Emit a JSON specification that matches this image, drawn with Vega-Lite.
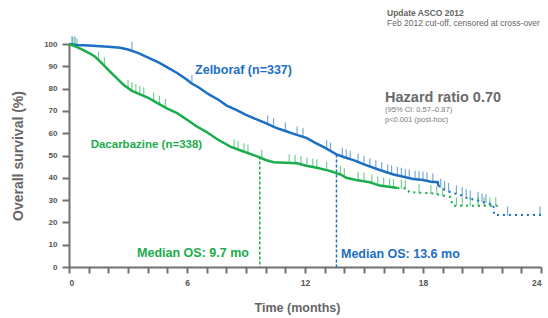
{
  "$schema": "https://vega.github.io/schema/vega-lite/v6.json",
  "autosize": "none",
  "padding": {"left": 69, "top": 44, "right": 7, "bottom": 51},
  "width": 472,
  "height": 223,
  "background": "white",
  "config": {
    "view": {"stroke": null},
    "font": "Liberation Sans",
    "axis": {"grid": false}
  },
  "datasets": {
    "km": [
      {"arm": "Zelboraf", "t": 0, "s": 100}, {"arm": "Zelboraf", "t": 0.4, "s": 99.6}, {"arm": "Zelboraf", "t": 1, "s": 99.3},
      {"arm": "Zelboraf", "t": 2, "s": 98.8}, {"arm": "Zelboraf", "t": 2.6, "s": 98.3}, {"arm": "Zelboraf", "t": 3, "s": 97.5},
      {"arm": "Zelboraf", "t": 3.5, "s": 96}, {"arm": "Zelboraf", "t": 4, "s": 94}, {"arm": "Zelboraf", "t": 4.6, "s": 91.5},
      {"arm": "Zelboraf", "t": 5, "s": 89.5}, {"arm": "Zelboraf", "t": 5.5, "s": 87}, {"arm": "Zelboraf", "t": 6, "s": 84},
      {"arm": "Zelboraf", "t": 6.2, "s": 82.5}, {"arm": "Zelboraf", "t": 6.6, "s": 80.5}, {"arm": "Zelboraf", "t": 7, "s": 78},
      {"arm": "Zelboraf", "t": 7.2, "s": 77}, {"arm": "Zelboraf", "t": 7.6, "s": 75}, {"arm": "Zelboraf", "t": 8, "s": 72.5},
      {"arm": "Zelboraf", "t": 8.5, "s": 70.5}, {"arm": "Zelboraf", "t": 9, "s": 68.2}, {"arm": "Zelboraf", "t": 9.6, "s": 66},
      {"arm": "Zelboraf", "t": 10, "s": 64.5}, {"arm": "Zelboraf", "t": 10.5, "s": 62.5}, {"arm": "Zelboraf", "t": 11, "s": 61},
      {"arm": "Zelboraf", "t": 11.5, "s": 59.5}, {"arm": "Zelboraf", "t": 12.1, "s": 57.8}, {"arm": "Zelboraf", "t": 12.5, "s": 55.8},
      {"arm": "Zelboraf", "t": 13, "s": 53.5}, {"arm": "Zelboraf", "t": 13.6, "s": 50.5}, {"arm": "Zelboraf", "t": 14, "s": 49.2},
      {"arm": "Zelboraf", "t": 14.5, "s": 47.8}, {"arm": "Zelboraf", "t": 15, "s": 46}, {"arm": "Zelboraf", "t": 15.8, "s": 43.5},
      {"arm": "Zelboraf", "t": 16.5, "s": 41.5}, {"arm": "Zelboraf", "t": 17, "s": 40.5}, {"arm": "Zelboraf", "t": 17.5, "s": 39.5},
      {"arm": "Zelboraf", "t": 18, "s": 39}, {"arm": "Zelboraf", "t": 18.4, "s": 38.2}, {"arm": "Zelboraf", "t": 18.75, "s": 38},
      {"arm": "Zelboraf", "t": 18.78, "s": 36.5}, {"arm": "Zelboraf", "t": 19, "s": 35}, {"arm": "Zelboraf", "t": 19.4, "s": 33.5},
      {"arm": "Zelboraf", "t": 19.9, "s": 32.3}, {"arm": "Zelboraf", "t": 20.2, "s": 31}, {"arm": "Zelboraf", "t": 20.7, "s": 30},
      {"arm": "Zelboraf", "t": 21.1, "s": 29}, {"arm": "Zelboraf", "t": 21.58, "s": 28}, {"arm": "Zelboraf", "t": 21.62, "s": 23.3},
      {"arm": "Zelboraf", "t": 24, "s": 23.3},
      {"arm": "Dacarbazine", "t": 0, "s": 100}, {"arm": "Dacarbazine", "t": 0.3, "s": 99}, {"arm": "Dacarbazine", "t": 0.6, "s": 97.8},
      {"arm": "Dacarbazine", "t": 1, "s": 96}, {"arm": "Dacarbazine", "t": 1.3, "s": 94.5}, {"arm": "Dacarbazine", "t": 1.6, "s": 92},
      {"arm": "Dacarbazine", "t": 2.1, "s": 87.5}, {"arm": "Dacarbazine", "t": 2.5, "s": 84}, {"arm": "Dacarbazine", "t": 2.8, "s": 81.5},
      {"arm": "Dacarbazine", "t": 3.2, "s": 79}, {"arm": "Dacarbazine", "t": 4, "s": 76}, {"arm": "Dacarbazine", "t": 4.5, "s": 73.5},
      {"arm": "Dacarbazine", "t": 5, "s": 71}, {"arm": "Dacarbazine", "t": 5.5, "s": 69}, {"arm": "Dacarbazine", "t": 6, "s": 66},
      {"arm": "Dacarbazine", "t": 6.5, "s": 63}, {"arm": "Dacarbazine", "t": 7, "s": 60.5}, {"arm": "Dacarbazine", "t": 7.5, "s": 57.5},
      {"arm": "Dacarbazine", "t": 8.2, "s": 54}, {"arm": "Dacarbazine", "t": 8.8, "s": 52}, {"arm": "Dacarbazine", "t": 9.6, "s": 49.5},
      {"arm": "Dacarbazine", "t": 10, "s": 48}, {"arm": "Dacarbazine", "t": 10.4, "s": 47}, {"arm": "Dacarbazine", "t": 11, "s": 46.8},
      {"arm": "Dacarbazine", "t": 11.6, "s": 46.5}, {"arm": "Dacarbazine", "t": 12, "s": 45.5}, {"arm": "Dacarbazine", "t": 12.6, "s": 44.5},
      {"arm": "Dacarbazine", "t": 13.3, "s": 43}, {"arm": "Dacarbazine", "t": 13.8, "s": 41.5}, {"arm": "Dacarbazine", "t": 14.1, "s": 40},
      {"arm": "Dacarbazine", "t": 14.6, "s": 39}, {"arm": "Dacarbazine", "t": 15.3, "s": 38}, {"arm": "Dacarbazine", "t": 15.8, "s": 36.5},
      {"arm": "Dacarbazine", "t": 16.7, "s": 35.4}, {"arm": "Dacarbazine", "t": 17.2, "s": 35.2}, {"arm": "Dacarbazine", "t": 17.3, "s": 33.6},
      {"arm": "Dacarbazine", "t": 18.5, "s": 33}, {"arm": "Dacarbazine", "t": 19.4, "s": 31.4}, {"arm": "Dacarbazine", "t": 19.5, "s": 27.5},
      {"arm": "Dacarbazine", "t": 21.8, "s": 27.5}
    ],
    "censor": [
      {"arm": "Zelboraf", "t": 0.15, "s": 99.8}, {"arm": "Zelboraf", "t": 0.3, "s": 99.7}, {"arm": "Zelboraf", "t": 3.2, "s": 97.2},
      {"arm": "Zelboraf", "t": 6.25, "s": 82.3}, {"arm": "Zelboraf", "t": 10.1, "s": 64.1}, {"arm": "Zelboraf", "t": 10.4, "s": 62.9},
      {"arm": "Zelboraf", "t": 11.0, "s": 61}, {"arm": "Zelboraf", "t": 11.6, "s": 59.2}, {"arm": "Zelboraf", "t": 11.9, "s": 58.4},
      {"arm": "Zelboraf", "t": 13.1, "s": 53}, {"arm": "Zelboraf", "t": 13.3, "s": 52}, {"arm": "Zelboraf", "t": 13.9, "s": 49.5},
      {"arm": "Zelboraf", "t": 14.1, "s": 48.9}, {"arm": "Zelboraf", "t": 14.3, "s": 48.4}, {"arm": "Zelboraf", "t": 14.7, "s": 47},
      {"arm": "Zelboraf", "t": 15.0, "s": 46}, {"arm": "Zelboraf", "t": 15.3, "s": 45}, {"arm": "Zelboraf", "t": 15.6, "s": 44.1},
      {"arm": "Zelboraf", "t": 15.9, "s": 43.2}, {"arm": "Zelboraf", "t": 16.2, "s": 42.3}, {"arm": "Zelboraf", "t": 16.4, "s": 41.8},
      {"arm": "Zelboraf", "t": 16.7, "s": 41.1}, {"arm": "Zelboraf", "t": 16.9, "s": 40.7}, {"arm": "Zelboraf", "t": 17.1, "s": 40.3},
      {"arm": "Zelboraf", "t": 17.3, "s": 39.9}, {"arm": "Zelboraf", "t": 17.6, "s": 39.4}, {"arm": "Zelboraf", "t": 17.8, "s": 39.2},
      {"arm": "Zelboraf", "t": 18.0, "s": 39}, {"arm": "Zelboraf", "t": 18.2, "s": 38.6}, {"arm": "Zelboraf", "t": 18.5, "s": 38.1},
      {"arm": "Zelboraf", "t": 18.9, "s": 35.8}, {"arm": "Zelboraf", "t": 19.1, "s": 34.6}, {"arm": "Zelboraf", "t": 19.3, "s": 33.9},
      {"arm": "Zelboraf", "t": 19.7, "s": 32.8}, {"arm": "Zelboraf", "t": 20.0, "s": 32}, {"arm": "Zelboraf", "t": 20.2, "s": 31},
      {"arm": "Zelboraf", "t": 20.4, "s": 30.6}, {"arm": "Zelboraf", "t": 20.8, "s": 29.8}, {"arm": "Zelboraf", "t": 21.0, "s": 29.3},
      {"arm": "Zelboraf", "t": 21.2, "s": 28.8}, {"arm": "Zelboraf", "t": 22.3, "s": 23.3}, {"arm": "Zelboraf", "t": 23.95, "s": 23.3},
      {"arm": "Dacarbazine", "t": 0.2, "s": 99.3}, {"arm": "Dacarbazine", "t": 0.4, "s": 98.6}, {"arm": "Dacarbazine", "t": 1.5, "s": 92.8},
      {"arm": "Dacarbazine", "t": 1.8, "s": 90.2}, {"arm": "Dacarbazine", "t": 3.0, "s": 80.2}, {"arm": "Dacarbazine", "t": 3.2, "s": 79},
      {"arm": "Dacarbazine", "t": 3.4, "s": 78.2}, {"arm": "Dacarbazine", "t": 3.6, "s": 77.5}, {"arm": "Dacarbazine", "t": 3.8, "s": 76.8},
      {"arm": "Dacarbazine", "t": 4.3, "s": 74.5}, {"arm": "Dacarbazine", "t": 4.6, "s": 73}, {"arm": "Dacarbazine", "t": 4.9, "s": 71.5},
      {"arm": "Dacarbazine", "t": 8.4, "s": 53.4}, {"arm": "Dacarbazine", "t": 8.6, "s": 52.7}, {"arm": "Dacarbazine", "t": 8.9, "s": 51.7},
      {"arm": "Dacarbazine", "t": 9.1, "s": 51}, {"arm": "Dacarbazine", "t": 9.8, "s": 48.8}, {"arm": "Dacarbazine", "t": 11.2, "s": 46.7},
      {"arm": "Dacarbazine", "t": 11.5, "s": 46.5}, {"arm": "Dacarbazine", "t": 11.8, "s": 46}, {"arm": "Dacarbazine", "t": 12.1, "s": 45.3},
      {"arm": "Dacarbazine", "t": 12.4, "s": 44.8}, {"arm": "Dacarbazine", "t": 12.6, "s": 44.5}, {"arm": "Dacarbazine", "t": 13.1, "s": 43.4},
      {"arm": "Dacarbazine", "t": 13.8, "s": 41.5}, {"arm": "Dacarbazine", "t": 14.0, "s": 40.5}, {"arm": "Dacarbazine", "t": 14.7, "s": 38.9},
      {"arm": "Dacarbazine", "t": 15.0, "s": 38.4}, {"arm": "Dacarbazine", "t": 15.4, "s": 37.7}, {"arm": "Dacarbazine", "t": 15.7, "s": 36.8},
      {"arm": "Dacarbazine", "t": 16.0, "s": 36.3}, {"arm": "Dacarbazine", "t": 16.3, "s": 35.9}, {"arm": "Dacarbazine", "t": 16.5, "s": 35.6},
      {"arm": "Dacarbazine", "t": 16.9, "s": 35.3}, {"arm": "Dacarbazine", "t": 17.1, "s": 35.2}, {"arm": "Dacarbazine", "t": 17.8, "s": 33.3},
      {"arm": "Dacarbazine", "t": 18.4, "s": 33}, {"arm": "Dacarbazine", "t": 18.7, "s": 32.5}, {"arm": "Dacarbazine", "t": 19.0, "s": 32},
      {"arm": "Dacarbazine", "t": 19.7, "s": 27.5}, {"arm": "Dacarbazine", "t": 20.0, "s": 27.5}, {"arm": "Dacarbazine", "t": 20.4, "s": 27.5},
      {"arm": "Dacarbazine", "t": 20.8, "s": 27.5}, {"arm": "Dacarbazine", "t": 21.1, "s": 27.5}, {"arm": "Dacarbazine", "t": 21.4, "s": 27.5},
      {"arm": "Dacarbazine", "t": 21.7, "s": 27.5}
    ],
    "median": [
      {"arm": "Zelboraf", "t": 13.6, "s": 50.5},
      {"arm": "Dacarbazine", "t": 9.7, "s": 49.5}
    ]
  },
  "encoding": {
    "x": {
      "field": "t", "type": "quantitative",
      "scale": {"domain": [0, 24], "nice": false, "zero": false},
      "axis": {
        "title": "Time (months)",
        "values": [0,1,2,3,4,5,6,7,8,9,10,11,12,13,14,15,16,17,18,19,20,21,22,23,24],
        "labelExpr": "datum.value % 6 === 0 ? datum.label : ''",
        "domainColor": "#707070", "domainWidth": 2,
        "tickColor": "#707070", "tickWidth": 2, "tickSize": 6,
        "labelFontSize": 8.5, "labelFontWeight": "bold", "labelColor": "#555555", "labelPadding": 5,
        "titleFontSize": 12.5, "titleFontWeight": "bold", "titleColor": "#666666",
        "titleX": 228, "titleY": 40, "titleBaseline": "middle"
      }
    },
    "y": {
      "field": "s", "type": "quantitative",
      "scale": {"domain": [0, 100], "nice": false},
      "axis": {
        "title": "Overall survival (%)",
        "values": [0,10,20,30,40,50,60,70,80,90,100],
        "domainColor": "#707070", "domainWidth": 2,
        "tickColor": "#707070", "tickWidth": 2, "tickSize": 7,
        "labelFontSize": 8, "labelFontWeight": "bold", "labelColor": "#555555", "labelPadding": 5,
        "titleFontSize": 14, "titleFontWeight": "bold", "titleColor": "#666666",
        "titleX": -51, "titleBaseline": "middle"
      }
    },
    "color": {
      "field": "arm", "type": "nominal",
      "scale": {"domain": ["Zelboraf", "Dacarbazine"], "range": ["#1c6fc4", "#19ae4b"]},
      "legend": null
    }
  },
  "layer": [
    {
      "data": {"name": "median"},
      "mark": {"type": "rule", "strokeDash": [3, 2], "strokeWidth": 1.5},
      "encoding": {"y2": {"datum": 0}}
    },
    {
      "data": {"name": "censor"},
      "mark": {"type": "tick", "orient": "vertical", "size": 9, "thickness": 1.2, "yOffset": -4, "opacity": 0.6}
    },
    {
      "data": {"name": "km"},
      "transform": [{"filter": "(datum.arm === 'Zelboraf' && datum.t <= 18.78) || (datum.arm === 'Dacarbazine' && datum.t <= 16.7)"}],
      "mark": {"type": "line", "strokeWidth": 2.5, "interpolate": "linear"},
      "encoding": {"detail": {"field": "arm"}}
    },
    {
      "data": {"name": "km"},
      "transform": [{"filter": "(datum.arm === 'Zelboraf' && datum.t >= 18.78) || (datum.arm === 'Dacarbazine' && datum.t >= 16.7)"}],
      "mark": {"type": "line", "strokeWidth": 2, "strokeDash": [2, 4], "interpolate": "linear"},
      "encoding": {"detail": {"field": "arm"}}
    },
    {
      "data": {"values": [{"t": 6.41, "s": 88.3, "label": "Zelboraf (n=337)"}]},
      "mark": {"type": "text", "align": "left", "baseline": "middle", "fontSize": 12.5, "fontWeight": "bold", "color": "#1c6fc4"},
      "encoding": {"text": {"field": "label"}, "color": {"value": "#1c6fc4"}}
    },
    {
      "data": {"values": [{"t": 1.1, "s": 54.7, "label": "Dacarbazine (n=338)"}]},
      "mark": {"type": "text", "align": "left", "baseline": "middle", "fontSize": 11.5, "fontWeight": "bold"},
      "encoding": {"text": {"field": "label"}, "color": {"value": "#19ae4b"}}
    },
    {
      "data": {"values": [{"t": 16.07, "s": 75.8, "label": "Hazard ratio 0.70"}]},
      "mark": {"type": "text", "align": "left", "baseline": "middle", "fontSize": 14.5, "fontWeight": "bold"},
      "encoding": {"text": {"field": "label"}, "color": {"value": "#6a6a6a"}}
    },
    {
      "data": {"values": [{"t": 16.07, "s": 70.2, "label": "(95% CI: 0.57–0.87)"}, {"t": 16.07, "s": 65.8, "label": "p<0.001 (post-hoc)"}]},
      "mark": {"type": "text", "align": "left", "baseline": "middle", "fontSize": 7.5},
      "encoding": {"text": {"field": "label"}, "color": {"value": "#7a7a7a"}}
    },
    {
      "data": {"values": [{"t": 3.46, "s": 6.3, "label": "Median OS: 9.7 mo"}]},
      "mark": {"type": "text", "align": "left", "baseline": "middle", "fontSize": 12.5, "fontWeight": "bold"},
      "encoding": {"text": {"field": "label"}, "color": {"value": "#19ae4b"}}
    },
    {
      "data": {"values": [{"t": 13.83, "s": 5.8, "label": "Median OS: 13.6 mo"}]},
      "mark": {"type": "text", "align": "left", "baseline": "middle", "fontSize": 12.5, "fontWeight": "bold"},
      "encoding": {"text": {"field": "label"}, "color": {"value": "#1c6fc4"}}
    },
    {
      "data": {"values": [{"t": 16.17, "s": 113.9, "label": "Update ASCO 2012"}]},
      "mark": {"type": "text", "align": "left", "baseline": "middle", "fontSize": 8.5, "fontWeight": "bold"},
      "encoding": {"text": {"field": "label"}, "color": {"value": "#666666"}}
    },
    {
      "data": {"values": [{"t": 16.17, "s": 109.2, "label": "Feb 2012 cut-off, censored at cross-over"}]},
      "mark": {"type": "text", "align": "left", "baseline": "middle", "fontSize": 8.5},
      "encoding": {"text": {"field": "label"}, "color": {"value": "#666666"}}
    }
  ]
}
